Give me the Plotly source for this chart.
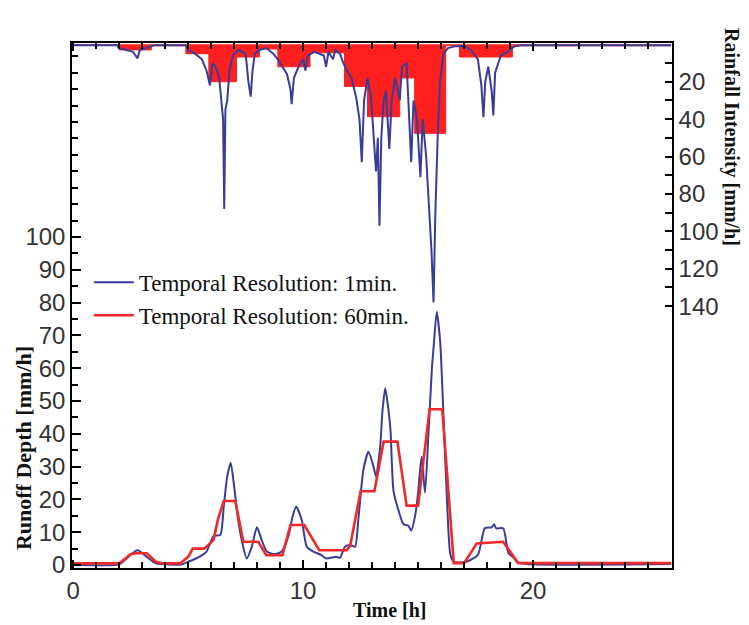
import plotly.graph_objects as go

# ---------------- data ----------------
# Runoff depth, 1-min temporal resolution  [time h, mm/h]
runoff_1min_t = [0, 2.0, 2.4, 2.8, 3.2, 3.6, 4.7, 5.0, 5.5, 5.8, 6.1, 6.4, 6.55, 6.7, 6.85, 7.0, 7.15,
                 7.33, 7.55, 7.77, 7.99, 8.2, 8.42, 8.78, 9.07, 9.36, 9.55, 9.7, 9.94, 10.16, 10.45,
                 10.8, 11.0, 11.45, 11.6, 11.82, 12.04, 12.26, 12.4, 12.62, 12.84, 13.06, 13.17,
                 13.35, 13.45, 13.57, 13.7, 13.8, 13.93, 14.15, 14.36, 14.58, 14.7, 14.87, 15.0,
                 15.1, 15.16, 15.3, 15.45, 15.6, 15.67, 15.81, 15.96, 16.1, 16.25, 16.4, 16.55,
                 17.1, 17.6, 17.9, 18.2, 18.3, 18.4, 18.7, 18.93, 19.15, 19.3, 19.7, 26.0]
runoff_1min_v = [0.2, 0.2, 2.5, 4.5, 2.5, 0.5, 0.2, 1.0, 2.6, 4.1, 8.8, 9.2, 18, 27, 31.2, 24, 15,
                 7.6, 2.0, 5.6, 11.5, 7.6, 4.1, 3.3, 4.1, 8.8, 15, 17.8, 13.7, 5.6, 4.1,
                 3.0, 2.0, 2.5, 2.2, 5.6, 6.1, 5.6, 13.8, 29, 34.5, 30, 27,
                 36, 47, 53.9, 48, 41, 22.6, 16.6, 12.5, 12, 10.5, 15, 22,
                 30, 33, 22, 40, 60, 66, 77.2, 68, 46, 20.6, 3.3, 1.0,
                 1.0, 3.1, 11.2, 11.5, 12.4, 11.2, 11.2, 3.6, 2.3, 1.0, 0.3, 0.3]

# Runoff depth, 60-min temporal resolution
runoff_60min_t = [0, 2.0, 2.5, 2.7, 3.2, 3.6, 3.9, 4.65, 5.0, 5.2, 5.7, 6.1, 6.3, 6.55, 7.05, 7.4,
                  8.05, 8.4, 9.1, 9.45, 10.05, 10.7, 11.9, 12.05, 12.5, 13.1, 13.5, 14.1, 14.5,
                  15.0, 15.5, 16.05, 16.55, 17.0, 17.55, 18.7, 19.35, 26.0]
runoff_60min_v = [0.5, 0.5, 3.3, 3.6, 3.6, 1.0, 0.5, 0.5, 2.5, 5.0, 5.0, 7.6, 14, 19.5, 19.5, 7.1,
                  7.1, 3.0, 3.0, 12.2, 12.2, 4.5, 4.5, 6.0, 22.5, 22.5, 37.6, 37.6, 18.1,
                  18.1, 47.5, 47.5, 0.6, 0.6, 6.6, 7.1, 0.6, 0.6]

# Rainfall intensity, 1-min resolution [time h, mm/h]
rain_1min_t = [0, 1.9, 2.0, 2.3, 2.6, 2.8, 2.9, 3.2, 3.5, 4.9, 5.0, 5.3, 5.6, 5.8, 5.95, 6.05, 6.2,
               6.35, 6.45, 6.52, 6.57, 6.62, 6.7, 6.8, 6.9, 7.0, 7.2, 7.5, 7.62, 7.72, 7.8, 7.9,
               8.1, 8.4, 8.7, 8.9, 9.1, 9.3, 9.45, 9.5, 9.6, 9.8, 10.0, 10.1, 10.2, 10.5, 10.9,
               11.0, 11.1, 11.3, 11.4, 11.6, 11.75, 11.9, 12.1, 12.3, 12.45, 12.55, 12.65, 12.8,
               12.95, 13.05, 13.17, 13.25, 13.32, 13.4, 13.5, 13.6, 13.75, 13.85, 14.0, 14.2,
               14.3, 14.5, 14.6, 14.7, 14.8, 14.95, 15.1, 15.2, 15.35, 15.49, 15.58, 15.67,
               15.75, 15.85, 15.95, 16.1, 16.3, 16.6, 17.0, 17.3, 17.6, 17.75, 17.84, 17.92,
               18.05, 18.2, 18.27, 18.35, 18.6, 18.9, 19.2, 19.5, 26.0]
rain_1min_v = [0.5, 0.5, 2, 3, 4, 7.5, 3, 2, 0.5, 0.5, 3, 5, 8, 14, 22, 10, 12,
               18, 30, 40, 88, 35, 30, 14, 8, 5, 3, 5, 20, 28, 14, 5,
               3, 2, 5, 8, 12, 16, 24, 32, 18, 12, 8, 14, 6, 4, 6,
               12, 4, 8, 3, 5, 10, 14, 18, 28, 40, 63, 30, 18,
               28, 45, 68, 50, 97, 50, 30, 25, 56, 30, 18, 30,
               12, 10, 35, 63, 30, 40, 71, 40, 60, 88, 110, 138,
               90, 50, 20, 5, 2, 1, 1, 3, 8, 22, 39, 20,
               12, 25, 38, 15, 6, 4, 1, 0.5, 0.5]

# Rainfall intensity, 60-min resolution (block edges and block values)
rain_60min_edges = [0, 2.0, 3.4, 4.9, 5.9, 7.1, 8.1, 8.9, 10.3, 11.8, 12.8, 14.2, 14.85, 16.2,
                    16.8, 19.1, 26.0]
rain_60min_vals = [0.5, 3.0, 0.8, 5.0, 20.0, 6.8, 2.5, 12.0, 4.5, 22.5, 38.7, 18.0, 47.6, 0.8,
                   6.8, 0.8]

left_ticks = list(range(0, 101, 10))
right_ticks = list(range(20, 141, 20))
right_minor = list(range(10, 131, 20))
x_ticks = [0, 10, 20]

BLUE = "#3a3c98"
RED = "#ff1f1f"
SERIF = "Liberation Serif"
SANS = "Liberation Sans"

fig = go.Figure()

fig.add_trace(go.Scatter(
    x=rain_60min_edges, y=rain_60min_vals + [rain_60min_vals[-1]],
    yaxis="y2", mode="lines", line=dict(color=RED, width=1, shape="hv"),
    fill="tozeroy", fillcolor=RED, showlegend=False, hoverinfo="skip"))
fig.add_trace(go.Scatter(
    x=rain_1min_t, y=rain_1min_v, yaxis="y2", mode="lines",
    line=dict(color=BLUE, width=2), showlegend=False))

fig.add_trace(go.Scatter(
    x=runoff_1min_t, y=runoff_1min_v, mode="lines",
    line=dict(color=BLUE, width=2, shape="spline", smoothing=0.6),
    name="Temporal Resolution: 1min."))
fig.add_trace(go.Scatter(
    x=runoff_60min_t, y=runoff_60min_v, mode="lines",
    line=dict(color="#f02828", width=2.6),
    name="Temporal Resolution: 60min."))

tickfont = dict(family=SANS, size=24, color="#333333")

fig.update_layout(
    width=741, height=617,
    margin=dict(l=64, r=77, t=35, b=57),
    plot_bgcolor="white", paper_bgcolor="white",
    showlegend=True,
    legend=dict(x=0.028, y=0.585, xanchor="left", yanchor="top",
                bgcolor="rgba(0,0,0,0)", font=dict(family=SERIF, size=23, color="#111"),
                tracegroupgap=0, itemwidth=40),
    xaxis=dict(range=[-0.05, 26.04], tickmode="array", tickvals=x_ticks,
               ticks="inside", ticklen=8, tickwidth=1.5, tickcolor="black",
               minor=dict(dtick=1, tick0=0, ticks="inside", ticklen=6, tickcolor="black"),
               showline=True, linecolor="black", linewidth=1.5, mirror="ticks",
               showgrid=False, zeroline=False, tickfont=tickfont),
    yaxis=dict(range=[-0.9, 159.1], tickmode="array", tickvals=left_ticks,
               ticks="inside", ticklen=9, tickwidth=1.5, tickcolor="black",
               minor=dict(dtick=5, tick0=0, ticks="inside", ticklen=6, tickcolor="black"),
               showline=True, linecolor="black", linewidth=1.5,
               showgrid=False, zeroline=False, tickfont=tickfont),
    yaxis2=dict(overlaying="y", side="right", range=[280, -0.7], tickmode="array",
                tickvals=right_ticks, ticks="inside", ticklen=7, tickwidth=1.5,
                tickcolor="black",
                minor=dict(tickmode="array", tickvals=right_minor, ticks="inside",
                           ticklen=7, tickcolor="black"),
                showline=True, linecolor="black", linewidth=1.5,
                showgrid=False, zeroline=False, tickfont=tickfont),
    annotations=[
        dict(text="<b>Runoff Depth [mm/h]</b>", xref="paper", yref="paper",
             x=-0.082, y=0.228, xanchor="center", yanchor="middle",
             textangle=-90, showarrow=False,
             font=dict(family=SERIF, size=22, color="#111")),
        dict(text="<b>Rainfall Intensity [mm/h]</b>", xref="paper", yref="paper",
             x=1.099, y=0.82, xanchor="center", yanchor="middle",
             textangle=90, showarrow=False,
             font=dict(family=SERIF, size=20, color="#111")),
        dict(text="<b>Time [h]</b>", xref="paper", yref="paper",
             x=0.53, y=-0.08, xanchor="center", yanchor="middle", showarrow=False,
             font=dict(family=SERIF, size=20, color="#111")),
    ],
)

fig.write_html("out.html")
